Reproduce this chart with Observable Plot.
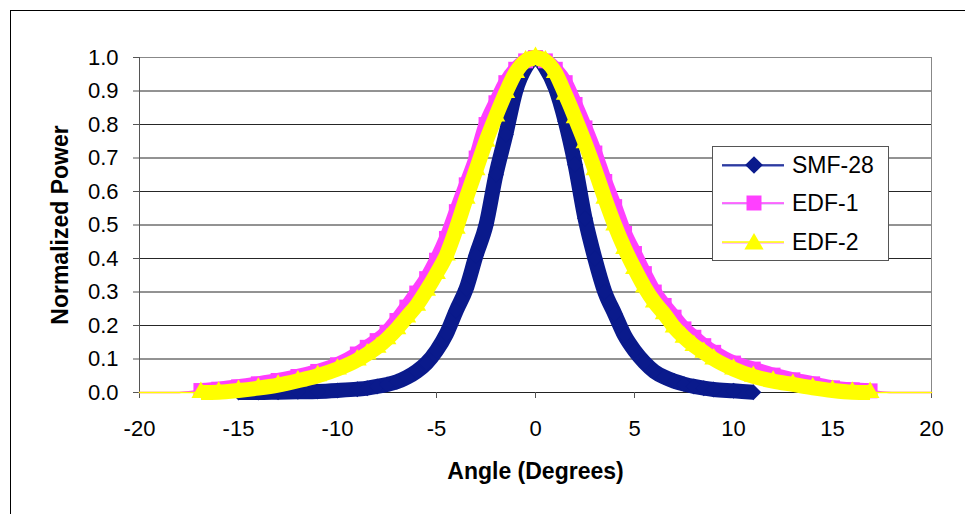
<!DOCTYPE html>
<html>
<head>
<meta charset="utf-8">
<script src="https://cdn.jsdelivr.net/npm/d3@7"></script>
<script src="https://cdn.jsdelivr.net/npm/@observablehq/plot@0.6"></script>
<style>
  html, body { margin: 0; padding: 0; background: #fff; }
  #wrap { position: relative; width: 965px; height: 514px; overflow: hidden; background: #fff; }
  #outer { position: absolute; left: 10px; top: 10px; width: 1000px; height: 600px; border: 1px solid #000; pointer-events: none; }
  #legend { position: absolute; left: 712px; top: 146px; width: 175px; height: 113px; border: 1px solid #555; background: #fff; }
</style>
</head>
<body>
<div id="wrap">
  <div id="chart"></div>
  <div id="outer"></div>
  <div id="legend"></div>
</div>
<script>
// ---- data ----
const angles = [-20,-18,-16.9,-16,-15,-14,-13,-12,-11,-10,-9,
  -8.5,-8,-7.5,-7,-6.5,-6,-5.5,-5,-4.5,-4,-3.5,-3,-2.5,-2,-1.5,-1,-0.5,
  0,
  0.5,1,1.5,2,2.5,3,3.5,4,4.5,5,5.5,6,6.5,7,7.5,8,8.5,
  9,10,11,12,13,14,15,16,16.9,18,20];

const smf28 = [null,null,null,null,0.0,0.0,0.001,0.002,0.003,0.006,0.01,
  0.013,0.018,0.024,0.032,0.045,0.063,0.088,0.125,0.175,0.245,0.31,0.41,0.5,0.65,0.77,0.9,0.97,
  1.0,
  0.97,0.91,0.81,0.68,0.52,0.4,0.3,0.235,0.17,0.125,0.09,0.063,0.046,0.034,0.025,0.018,0.013,
  0.009,0.005,0.001,null,null,null,null,null,null,null,null];

const edf1 = [0,0,0.006,0.01,0.017,0.026,0.036,0.048,0.063,0.083,0.115,
  0.135,0.155,0.18,0.215,0.255,0.297,0.34,0.395,0.46,0.54,0.62,0.7,0.8,0.865,0.925,0.965,0.99,
  1.0,
  0.99,0.965,0.925,0.86,0.79,0.715,0.63,0.555,0.475,0.415,0.355,0.3,0.26,0.225,0.19,0.165,0.14,
  0.12,0.088,0.07,0.052,0.038,0.026,0.014,0.008,0.005,0,0];

const edf2 = [0,0,0,0.001,0.006,0.013,0.022,0.035,0.05,0.07,0.097,
  0.115,0.135,0.16,0.19,0.225,0.26,0.305,0.355,0.41,0.49,0.58,0.665,0.75,0.825,0.895,0.955,0.99,
  1.0,
  0.99,0.955,0.89,0.82,0.745,0.665,0.58,0.5,0.43,0.37,0.315,0.27,0.235,0.195,0.165,0.14,0.12,
  0.1,0.07,0.048,0.034,0.024,0.014,0.006,0.001,0,0,0];

const seriesNames = ["SMF-28", "EDF-1", "EDF-2"];
const seriesValues = [smf28, edf1, edf2];
const seriesColors = ["#0A1A8C", "#FF40FF", "#FFFF00"];
const seriesSymbols = ["diamond2", "square", "triangle"];
const bandLimit = [16.9, 16.9, 16.9];

const xTicks = [-20,-15,-10,-5,0,5,10,15,20];
const yTicks = [0,0.1,0.2,0.3,0.4,0.5,0.6,0.7,0.8,0.9,1.0];
const xTitle = "Angle (Degrees)";
const yTitle = "Normalized Power";

// ---- build rows ----
const rows = seriesNames.flatMap((s, k) =>
  angles.map((a, i) => ({angle: a, value: seriesValues[k][i], series: s})));

const seriesMarks = seriesNames.flatMap((s, k) => {
  const all = rows.filter(d => d.series === s && d.value != null);
  const band = all.filter(d => Math.abs(d.angle) <= bandLimit[k]);
  const r = k === 0 ? 7.2 : (k === 1 ? 8.4 : 7.0);
  return [
    Plot.line(all, {x: "angle", y: "value", stroke: seriesColors[k], strokeWidth: 1.5, curve: "monotone-x"}),
    Plot.line(band, {x: "angle", y: "value", stroke: seriesColors[k], strokeWidth: 15, curve: "monotone-x", strokeLinejoin: "round", strokeLinecap: "butt"}),
    Plot.dot(band, {x: "angle", y: "value", symbol: seriesSymbols[k], r: r, fill: seriesColors[k], stroke: "none"})
  ];
});

const chart = Plot.plot({
  width: 965,
  height: 514,
  marginLeft: 139,
  marginRight: 34,
  marginTop: 57,
  marginBottom: 122,
  x: {domain: [-20, 20]},
  y: {domain: [0, 1]},
  style: {fontFamily: "'Liberation Sans', Arial, sans-serif", fontSize: "22px", background: "transparent", color: "#000"},
  marks: [
    Plot.gridY(yTicks, {stroke: "#000", strokeOpacity: 0.85}),
    Plot.frame({stroke: "#888"}),
    Plot.ruleX([-20], {stroke: "#555"}),
    Plot.ruleY([0], {stroke: "#222"}),
    Plot.axisY(yTicks, {tickFormat: d => d.toFixed(1), tickSize: 6, tickPadding: 15, label: null, fontSize: 22, stroke: "#555"}),
    Plot.axisX(xTicks, {tickFormat: d => String(d), tickSize: 6, tickPadding: 22, label: null, fontSize: 22, stroke: "#555"}),
    ...seriesMarks,
    Plot.text([xTitle], {text: d => d, frameAnchor: "bottom", dy: 79, fontWeight: "bold", fontSize: 23, lineAnchor: "middle", textAnchor: "middle"}),
    Plot.text([yTitle], {text: d => d, frameAnchor: "left", dx: -79, rotate: -90, fontWeight: "bold", fontSize: 23, lineAnchor: "middle", textAnchor: "middle"})
  ]
});
document.getElementById("chart").appendChild(chart);

// ---- legend ----
const lg = d3.select("#legend").append("svg").attr("width", 175).attr("height", 113)
  .style("font-family", "'Liberation Sans', Arial, sans-serif");
const rowY = [18, 56, 95];
const symSizes = [200, 225, 160];
const d3Syms = [d3.symbolDiamond2, d3.symbolSquare, d3.symbolTriangle];
const underColors = ["#3344BB", "#C8B8F0", "#FF80FF"];
seriesNames.forEach((s, k) => {
  const g = lg.append("g").attr("transform", `translate(0,${rowY[k]})`);
  g.append("line").attr("x1", 9).attr("x2", 71).attr("y1", 1).attr("y2", 1).attr("stroke", underColors[k]).attr("stroke-width", 1.2);
  g.append("line").attr("x1", 9).attr("x2", 71).attr("y1", 0).attr("y2", 0).attr("stroke", seriesColors[k]).attr("stroke-width", 1.5);
  g.append("path").attr("transform", `translate(41,${k === 2 ? 2 : 0})`).attr("d", d3.symbol(d3Syms[k], symSizes[k])()).attr("fill", seriesColors[k]);
  g.append("text").attr("x", 79).attr("y", 0).attr("dy", "0.35em").attr("font-size", 23).attr("fill", "#000").text(s);
});
</script>
</body>
</html>
